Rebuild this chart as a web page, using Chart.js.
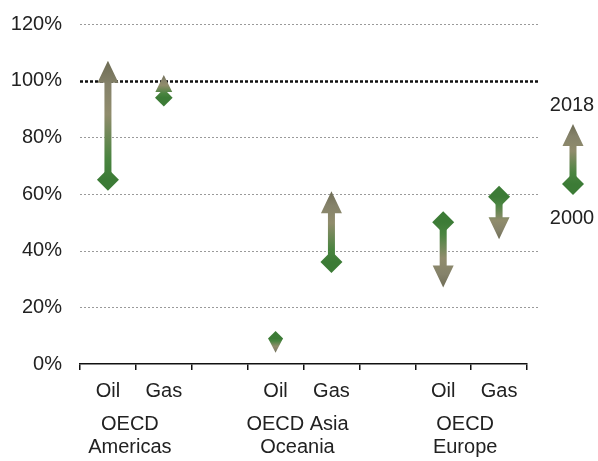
<!DOCTYPE html>
<html>
<head>
<meta charset="utf-8">
<script src="https://cdn.jsdelivr.net/npm/chart.js@4.4.1/dist/chart.umd.min.js"></script>
<style>
  html, body { margin: 0; padding: 0; background: #fff; }
  #wrap { width: 598px; height: 461px; }
</style>
</head>
<body>
<div id="wrap"><canvas id="chart"></canvas></div>
<script>
// categories along the x axis (empty slots separate the regions)
const categories = ['Oil', 'Gas', '', 'Oil', 'Gas', '', 'Oil', 'Gas'];
const regions = [['OECD', 'Americas'], ['OECD Asia', 'Oceania'], ['OECD', 'Europe']];
const regionSlots = [[0, 1], [3, 4], [6, 7]];
// self-sufficiency, % (2000 = diamond, 2018 = arrow tip)
const share2000 = [65, 94, null, 9, 36, null, 50, 59];
const share2018 = [107, 102, null, 4, 61, null, 27, 44];
const yTicks = [0, 20, 40, 60, 80, 100, 120];

const FONT = 'Liberation Sans, Arial, sans-serif';
const TEXT = '#222';

function arrowGradient(ctx, x, y0, y1) {
  const g = ctx.createLinearGradient(x, y0, x, y1);
  g.addColorStop(0, '#3c7b36');
  g.addColorStop(0.18, '#4a8440');
  g.addColorStop(0.55, '#908c6c');
  g.addColorStop(0.8, '#85826a');
  g.addColorStop(1, '#6e6c54');
  return g;
}

// diamond at y0, arrow head pointing to y1
function drawArrow(ctx, x, y0, y1) {
  const len = Math.abs(y1 - y0);
  const dir = y1 < y0 ? -1 : 1;
  const s = Math.min(1, 0.5 + len / 75);
  const headLen = 22 * Math.min(s, 0.4 + len / 60), headHalf = 10.5 * s, shaftHalf = 3.5 * s, dia = 11 * s;
  const base = y1 - dir * headLen;
  ctx.save();
  ctx.fillStyle = arrowGradient(ctx, x, y0, y1);
  ctx.beginPath();
  ctx.moveTo(x - shaftHalf, y0);
  ctx.lineTo(x - shaftHalf, base);
  ctx.lineTo(x - headHalf, base);
  ctx.lineTo(x, y1);
  ctx.lineTo(x + headHalf, base);
  ctx.lineTo(x + shaftHalf, base);
  ctx.lineTo(x + shaftHalf, y0);
  ctx.closePath();
  ctx.fill();
  ctx.beginPath();
  ctx.moveTo(x, y0 - dia);
  ctx.lineTo(x + dia, y0);
  ctx.lineTo(x, y0 + dia);
  ctx.lineTo(x - dia, y0);
  ctx.closePath();
  ctx.fill();
  ctx.restore();
}

const arrowPlugin = {
  id: 'arrows',
  beforeDatasetsDraw(chart) {
    const { ctx, chartArea: a, scales: { y } } = chart;
    ctx.save();
    yTicks.forEach(v => {
      if (v === 0) return;
      const py = Math.round(y.getPixelForValue(v)) + 0.5;
      ctx.beginPath();
      if (v === 100) {
        ctx.strokeStyle = '#111';
        ctx.lineWidth = 2.5;
        ctx.setLineDash([3, 2]);
      } else {
        ctx.strokeStyle = '#9a9a9a';
        ctx.lineWidth = 1;
        ctx.setLineDash([2, 2]);
      }
      ctx.moveTo(a.left, py);
      ctx.lineTo(a.right + 13, py);
      ctx.stroke();
    });
    ctx.restore();
  },
  afterDatasetsDraw(chart) {
    const { ctx, scales: { x, y } } = chart;
    categories.forEach((c, i) => {
      if (share2000[i] == null) return;
      drawArrow(ctx, x.getPixelForValue(i), y.getPixelForValue(share2000[i]), y.getPixelForValue(share2018[i]));
    });

    // region labels under the Oil / Gas ticks
    ctx.save();
    ctx.font = '20px ' + FONT;
    ctx.fillStyle = TEXT;
    ctx.textAlign = 'center';
    ctx.textBaseline = 'middle';
    regions.forEach((lines, k) => {
      const [i0, i1] = regionSlots[k];
      const cx = (x.getPixelForValue(i0) + x.getPixelForValue(i1)) / 2 - 6;
      lines.forEach((t, j) => ctx.fillText(t, cx, 424 + j * 23));
    });

    // legend
    ctx.fillText('2018', 572, 105);
    ctx.fillText('2000', 572, 218);
    ctx.restore();
    drawArrow(ctx, 573, 184, 124);
  }
};

new Chart(document.getElementById('chart'), {
  type: 'line',
  data: {
    labels: categories,
    datasets: [
      { label: '2000', data: share2000, showLine: false, pointRadius: 0 },
      { label: '2018', data: share2018, showLine: false, pointRadius: 0 }
    ]
  },
  options: {
    responsive: true,
    maintainAspectRatio: false,
    animation: false,
    layout: { padding: { left: 0, right: 71, top: 24, bottom: 0 } },
    plugins: { legend: { display: false }, tooltip: { enabled: false } },
    scales: {
      x: {
        offset: true,
        grid: { offset: true, drawOnChartArea: false, tickLength: 6, color: '#111', lineWidth: 1.5 },
        border: { color: '#111', width: 1.5 },
        ticks: { font: { family: FONT, size: 20 }, color: TEXT, padding: 9, maxRotation: 0, autoSkip: false },
        afterFit(s) { s.height = 97; s.paddingLeft = 0; s.paddingRight = 0; }
      },
      y: {
        min: 0,
        max: 120,
        grid: { display: false, drawTicks: false },
        border: { display: false },
        ticks: {
          stepSize: 20,
          padding: 18,
          font: { family: FONT, size: 20 },
          color: TEXT,
          callback: v => v + '%'
        },
        afterFit(s) { s.width = 80; s.paddingTop = 0; s.paddingBottom = 0; }
      }
    }
  },
  plugins: [arrowPlugin]
});
</script>
</body>
</html>
